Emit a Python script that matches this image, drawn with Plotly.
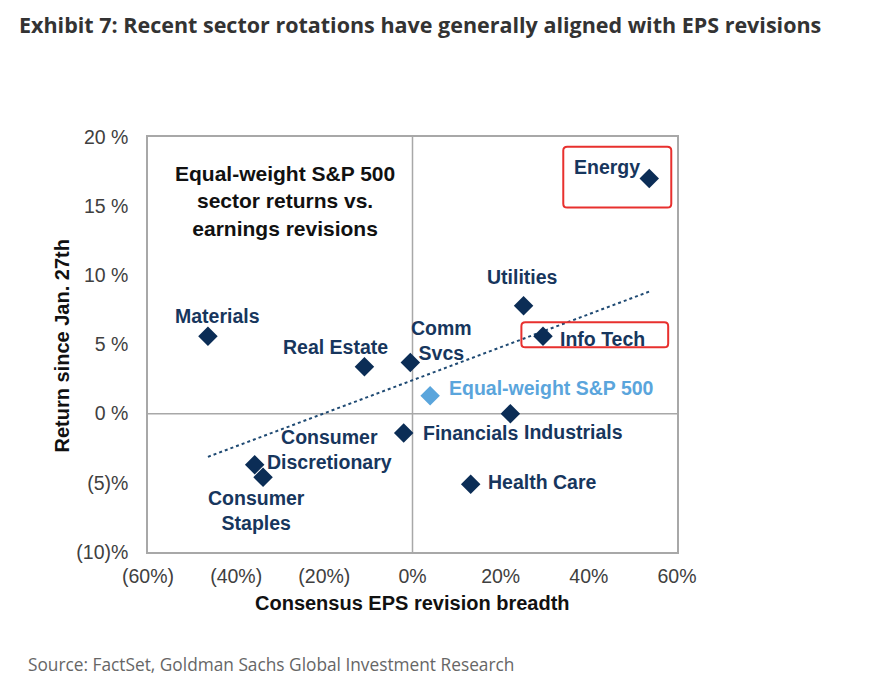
import numpy as np
import plotly.graph_objects as go

# ---- data ----
sectors = ["Energy", "Utilities", "Info Tech", "Comm<br>Svcs", "Industrials", "Financials",
           "Health Care", "Consumer<br>Discretionary", "Consumer<br>Staples", "Materials", "Real Estate"]
eps_breadth = [53.7, 25.2, 29.6, -0.5, 22.2, -2.0, 13.2, -35.8, -33.9, -46.4, -10.9]
returns = [17.0, 7.8, 5.6, 3.7, 0.0, -1.4, -5.1, -3.7, -4.6, 5.6, 3.4]
index_name = "Equal-weight S&P 500"
index_breadth = [4.0]
index_return = [1.3]
x_tickvals = [-60, -40, -20, 0, 20, 40, 60]
x_ticktext = ["(60%)", "(40%)", "(20%)", "0%", "20%", "40%", "60%"]
y_tickvals = [-10, -5, 0, 5, 10, 15, 20]
y_ticktext = ["(10)%", "(5)%", "0 %", "5 %", "10 %", "15 %", "20 %"]

# ---- styles ----
NAVY = "#0b2d56"
LABEL = "#17365d"
LIGHT = "#5aa5dc"
GRID = "#a8a8a8"
RED = "#e8302e"
LABEL_SIZE = 19.5
# label offsets in pixels: (xanchor, xshift, yshift)
label_pos = {
    "Energy": ("center", -42, 12),
    "Utilities": ("center", -1, 29),
    "Info Tech": ("left", 15, -3),
    "Comm<br>Svcs": ("center", 31, 22),
    "Industrials": ("left", 12, -18),
    "Financials": ("left", 17, 0),
    "Health Care": ("left", 15, 2),
    "Consumer<br>Discretionary": ("center", 75, 15),
    "Consumer<br>Staples": ("center", -7, -33),
    "Materials": ("center", 10, 20),
    "Real Estate": ("center", -29, 20),
}
# highlight boxes (data-space extents)
highlight_boxes = [(34.2, 58.7, 14.9, 19.3), (24.7, 58.0, 4.8, 6.6)]

fig = go.Figure()

# trendline (least-squares fit of the sectors)
slope, intercept = np.polyfit(eps_breadth, returns, 1)
xs = np.array([min(eps_breadth), max(eps_breadth)])
fig.add_trace(go.Scatter(x=xs, y=slope * xs + intercept, mode="lines",
                         line=dict(color="#1f4a73", width=2, dash="dot"),
                         hoverinfo="skip", showlegend=False))

fig.add_trace(go.Scatter(x=eps_breadth, y=returns, mode="markers",
                         marker=dict(symbol="diamond", size=15, color=NAVY),
                         showlegend=False))
fig.add_trace(go.Scatter(x=index_breadth, y=index_return, mode="markers",
                         marker=dict(symbol="diamond", size=15, color=LIGHT),
                         showlegend=False))

annotations = []
for name, xv, yv in zip(sectors, eps_breadth, returns):
    anc, dx, dy = label_pos[name]
    annotations.append(dict(x=xv, y=yv, xref="x", yref="y", text=name, showarrow=False,
                            xanchor=anc, yanchor="middle", xshift=dx, yshift=dy,
                            font=dict(family="Liberation Sans", size=LABEL_SIZE, color=LABEL, weight="bold"),
                            align="center"))
annotations.append(dict(x=index_breadth[0], y=index_return[0], xref="x", yref="y",
                        text=index_name, showarrow=False, xanchor="left", yanchor="middle",
                        xshift=17, yshift=8,
                        font=dict(family="Liberation Sans", size=LABEL_SIZE, color=LIGHT, weight="bold")))

# inset title
annotations.append(dict(x=0.259, y=0.846, xref="paper", yref="paper",
                        text="Equal-weight S&P 500<br>sector returns vs.<br>earnings revisions",
                        showarrow=False, xanchor="center", yanchor="middle", align="center",
                        font=dict(family="Liberation Sans", size=21, color="#111111", weight="bold")))
# axis titles
annotations.append(dict(x=-0.163, y=0.497, xref="paper", yref="paper", text="Return since Jan. 27th",
                        showarrow=False, textangle=-90, xanchor="center", yanchor="middle",
                        font=dict(family="Liberation Sans", size=20, color="#111111", weight="bold")))
annotations.append(dict(x=0.500, y=-0.123, xref="paper", yref="paper", text="Consensus EPS revision breadth",
                        showarrow=False, xanchor="center", yanchor="middle",
                        font=dict(family="Liberation Sans", size=20, color="#111111", weight="bold")))
# chart title & source
annotations.append(dict(x=-0.2485, y=1.31, xref="paper", yref="paper",
                        text="Exhibit 7: Recent sector rotations have generally aligned with EPS revisions",
                        showarrow=False, xanchor="left", yanchor="top",
                        font=dict(family="Open Sans", size=21.5, color="#333333", weight="bold")))
annotations.append(dict(x=-0.230, y=-0.272, xref="paper", yref="paper",
                        text="Source: FactSet, Goldman Sachs Global Investment Research",
                        showarrow=False, xanchor="left", yanchor="middle",
                        font=dict(family="Open Sans", size=17.3, color="#666666")))

shapes = [
    dict(type="line", x0=0, x1=0, y0=-10, y1=20, xref="x", yref="y", line=dict(color=GRID, width=1.5), layer="below"),
    dict(type="line", x0=-60, x1=60, y0=0, y1=0, xref="x", yref="y", line=dict(color=GRID, width=1.5), layer="below"),
]
rx, ry = 0.9, 0.28  # corner rounding in data units (~4 px)
for x0, x1, y0, y1 in highlight_boxes:
    path = (f"M {x0+rx},{y0} L {x1-rx},{y0} Q {x1},{y0} {x1},{y0+ry} "
            f"L {x1},{y1-ry} Q {x1},{y1} {x1-rx},{y1} L {x0+rx},{y1} Q {x0},{y1} {x0},{y1-ry} "
            f"L {x0},{y0+ry} Q {x0},{y0} {x0+rx},{y0} Z")
    shapes.append(dict(type="path", path=path, xref="x", yref="y", line=dict(color=RED, width=2)))

fig.update_layout(
    width=876, height=684,
    margin=dict(l=140, r=207, t=129, b=140),
    paper_bgcolor="white", plot_bgcolor="white",
    annotations=annotations, shapes=shapes,
    showlegend=False,
)
fig.update_xaxes(range=[-60, 60], tickvals=x_tickvals, ticktext=x_ticktext,
                 showgrid=False, zeroline=False, showline=True, mirror=True, linecolor=GRID, linewidth=1.5,
                 ticks="outside", ticklen=6, tickcolor="rgba(0,0,0,0)",
                 tickfont=dict(family="Liberation Sans", size=19.5, color="#404040"))
fig.update_yaxes(range=[-10, 20], tickvals=y_tickvals, ticktext=y_ticktext,
                 showgrid=False, zeroline=False, showline=True, mirror=True, linecolor=GRID, linewidth=1.5,
                 ticks="outside", ticklen=14, tickcolor="rgba(0,0,0,0)",
                 tickfont=dict(family="Liberation Sans", size=19.5, color="#404040"))

fig.write_html("out.html")
